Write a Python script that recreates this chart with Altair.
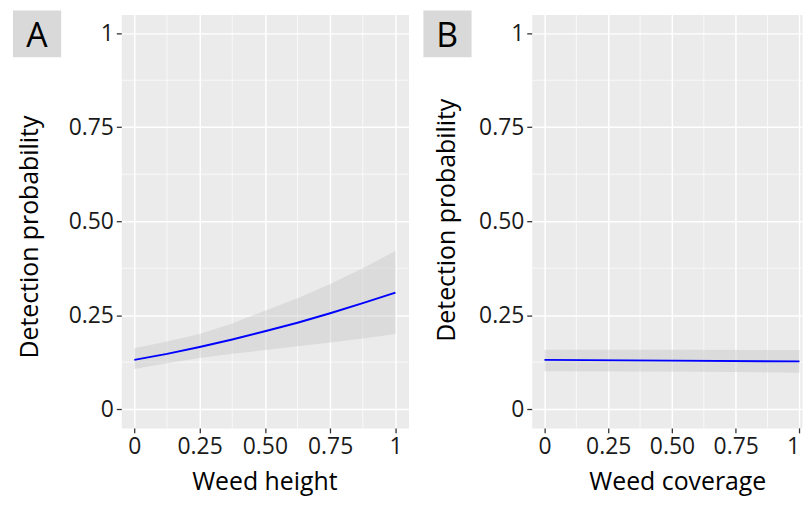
import altair as alt
import pandas as pd

# Panel A: weed height
height_x = [0, 0.125, 0.25, 0.375, 0.5, 0.625, 0.75, 0.875, 1]
height_fit = [0.131, 0.147, 0.165, 0.185, 0.207, 0.230, 0.255, 0.282, 0.310]
height_lo = [0.107, 0.122, 0.136, 0.147, 0.157, 0.167, 0.177, 0.188, 0.200]
height_hi = [0.162, 0.180, 0.200, 0.228, 0.262, 0.295, 0.333, 0.375, 0.421]

# Panel B: weed coverage
coverage_x = [0, 0.5, 1]
coverage_fit = [0.131, 0.129, 0.127]
coverage_lo = [0.101, 0.100, 0.097]
coverage_hi = [0.158, 0.158, 0.157]

major_ticks = [0, 0.25, 0.5, 0.75, 1]
minor_ticks = [0.125, 0.375, 0.625, 0.875]
panel_labels = ["A", "B"]
x_titles = ["Weed height", "Weed coverage"]
y_title = "Detection probability"

FONT = "Open Sans"
LABEL_EXPR = "datum.value == 0 ? '0' : datum.value == 1 ? '1' : format(datum.value, '.2f')"


def make_panel(x, fit, lo, hi, xtitle, label, xmax, width, ytx, yty, xtx):
    df = pd.DataFrame({"x": x, "fit": fit, "lo": lo, "hi": hi})
    xscale = alt.Scale(domain=[-0.05, xmax], nice=False, zero=False)
    yscale = alt.Scale(domain=[-0.05, 1.05], nice=False, zero=False)
    xaxis = alt.Axis(values=major_ticks, labelExpr=LABEL_EXPR, title=xtitle,
                     titleX=xtx, titleY=62, titleBaseline="alphabetic",
                     titleAlign="center", labelFlush=6)
    yaxis = alt.Axis(values=major_ticks, labelExpr=LABEL_EXPR, title=y_title,
                     titleX=ytx, titleY=yty, titleAngle=270,
                     titleBaseline="bottom", titleAlign="center")

    minor_x = alt.Chart(pd.DataFrame({"x": minor_ticks})).mark_rule(
        color="white", strokeWidth=0.7).encode(
        x=alt.X("x:Q", scale=xscale, axis=xaxis))
    minor_y = alt.Chart(pd.DataFrame({"fit": minor_ticks})).mark_rule(
        color="white", strokeWidth=0.7).encode(
        y=alt.Y("fit:Q", scale=yscale, axis=yaxis))
    base = alt.Chart(df)
    band = base.mark_area(color="#C4C4C4", opacity=0.4).encode(
        x=alt.X("x:Q", scale=xscale, axis=xaxis),
        y=alt.Y("lo:Q", scale=yscale, axis=yaxis),
        y2="hi:Q")
    line = base.mark_line(color="#0000FF", strokeWidth=2).encode(
        x=alt.X("x:Q", scale=xscale, axis=xaxis),
        y=alt.Y("fit:Q", scale=yscale, axis=yaxis))

    lab_df = pd.DataFrame({"lab": [label]})
    box = alt.Chart(lab_df).mark_rect(color="#D9D9D9").encode(
        x=alt.value(-109), x2=alt.value(-60.5),
        y=alt.value(-4), y2=alt.value(43))
    txt = alt.Chart(lab_df).mark_text(
        font=FONT, fontSize=34, color="#000000", align="center",
        baseline="alphabetic").encode(
        text="lab:N", x=alt.value(-85), y=alt.value(33))

    return alt.layer(minor_x, minor_y, band, line, box, txt).properties(
        width=width, height=416)


panel_a = make_panel(height_x, height_fit, height_lo, height_hi, x_titles[0],
                     panel_labels[0], 1.05, 289, -79, 223.5, 144)
panel_b = make_panel(coverage_x, coverage_fit, coverage_lo, coverage_hi,
                     x_titles[1], panel_labels[1], 1.01, 272, -73, 206.5, 146.5)

chart = alt.hconcat(panel_a, panel_b, spacing=13).properties(
    padding={"left": 4, "top": 0, "right": 0, "bottom": 0},
    background="white",
).configure_view(
    fill="#EBEBEB", stroke="transparent"
).configure_axis(
    domain=False, grid=True, gridColor="white", gridWidth=1.5,
    tickColor="#333333", tickSize=5, tickWidth=1.3,
    labelFont=FONT, labelFontSize=23, labelColor="#1A1A1A", labelPadding=3,
    titleFont=FONT, titleFontSize=25, titleFontWeight="normal",
    titleColor="#000000",
)

chart.save("out.html", embed_options={"renderer": "svg", "actions": False})
